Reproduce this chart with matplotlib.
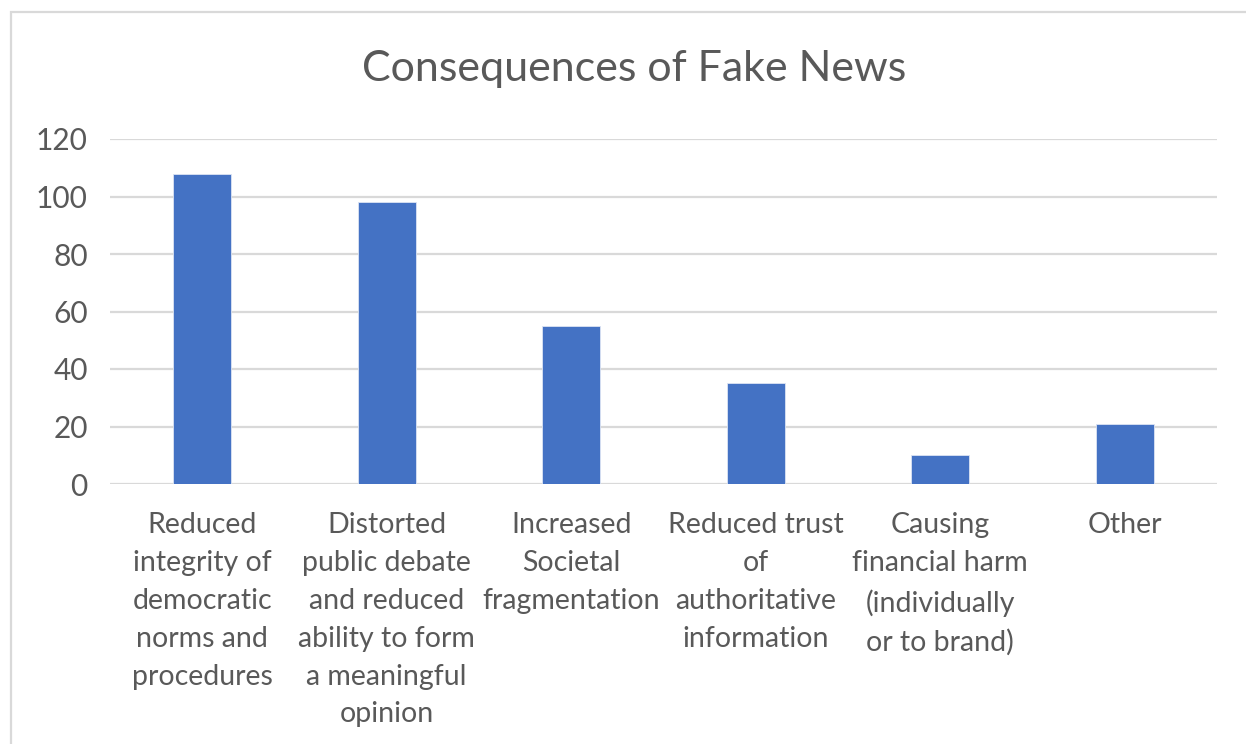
import matplotlib
matplotlib.use("Agg")
import matplotlib.pyplot as plt
from matplotlib.patches import Rectangle

categories = [
    "Reduced\nintegrity of\ndemocratic\nnorms and\nprocedures",
    "Distorted\npublic debate\nand reduced\nability to form\na meaningful\nopinion",
    "Increased\nSocietal\nfragmentation",
    "Reduced trust\nof\nauthoritative\ninformation",
    "Causing\nfinancial harm\n(individually\nor to brand)",
    "Other",
]
values = [108, 98, 55, 35, 10, 21]
y_ticks = [0, 20, 40, 60, 80, 100, 120]

TEXT = "#595959"
GRID = "#d9d9d9"
BAR = "#4472C4"

plt.rcParams["font.family"] = ["Lato", "DejaVu Sans"]

fig = plt.figure(figsize=(12.46, 7.44), dpi=100)
fig.patch.set_facecolor("white")

# chart frame
W, H = 1246, 744
fig.patches.append(Rectangle((11 / W, -0.1), 1.2, 1 - 12 / H + 0.1,
                             transform=fig.transFigure, fill=False,
                             edgecolor=GRID, linewidth=1.6, zorder=0))

ax = fig.add_axes([110 / W, 1 - 484 / H, (1217 - 110) / W, (484 - 139) / H])
x = range(len(values))
ax.bar(x, values, width=0.313, color=BAR, edgecolor="#dce4f3",
       linewidth=0.6, zorder=3)

ax.set_xlim(-0.5, len(values) - 0.5)
ax.set_ylim(0, 120)
ax.set_yticks(y_ticks)
ax.set_yticklabels([str(v) for v in y_ticks], fontsize=21.5, color=TEXT)
ax.set_xticks(list(x))
ax.set_xticklabels(categories, fontsize=20.5, color=TEXT, linespacing=1.56)
ax.tick_params(axis="both", length=0)
ax.tick_params(axis="y", pad=16)
ax.tick_params(axis="x", pad=20.5)

for s in ax.spines.values():
    s.set_visible(False)
ax.yaxis.grid(True, color=GRID, linewidth=1.6, zorder=0)
ax.set_axisbelow(True)

fig.text(634 / W, 1 - 69 / H, "Consequences of Fake News", ha="center",
         va="center", fontsize=31, color=TEXT)

fig.savefig("out.png", dpi=100, facecolor="white")
